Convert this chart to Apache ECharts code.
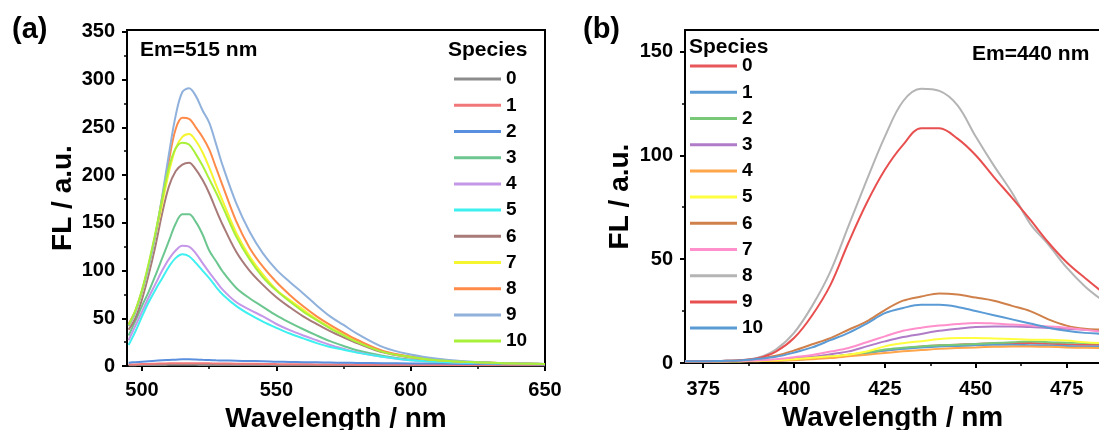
<!DOCTYPE html>
<html><head><meta charset="utf-8">
<script src="https://cdn.jsdelivr.net/npm/echarts@6/dist/echarts.min.js"></script>
<style>html,body{margin:0;padding:0;background:#fff}#c{width:1099px;height:430px}</style>
</head><body><div id="c"></div>
<script>
// ---------- data ----------
const speciesNames = ['0','1','2','3','4','5','6','7','8','9','10'];

// Panel (a): Em = 515 nm
const waveA = [495, 497.5, 500, 502.5, 505, 507.5, 510, 512.5, 515, 517.5, 520, 522.5, 525, 527.5, 530, 535, 540, 545, 550, 555, 560, 565, 570, 575, 580, 590, 600, 610, 620, 630, 640, 650];
const a0 = [0.8, 0.9, 1, 1, 1.1, 1.1, 1.2, 1.2, 1.2, 1.2, 1.2, 1.1, 1.1, 1.1, 1, 1, 1, 1, 0.9, 0.9, 0.9, 0.9, 0.8, 0.8, 0.8, 0.8, 0.8, 0.8, 0.7, 0.7, 0.7, 0.7];
const a1 = [1.5, 1.7, 2, 2.2, 2.4, 2.6, 2.8, 3, 3, 3, 3, 2.9, 2.8, 2.7, 2.6, 2.4, 2.3, 2.2, 2, 1.9, 1.8, 1.7, 1.6, 1.5, 1.4, 1.3, 1.2, 1.1, 1, 1, 1, 1];
const a2 = [3.5, 4, 4.5, 5, 5.5, 6, 6.3, 6.6, 7, 7, 6.8, 6.5, 6.3, 6, 5.8, 5.5, 5.2, 5, 4.5, 4.2, 4, 3.8, 3.6, 3.4, 3.2, 3, 2.7, 2.5, 2.2, 2, 1.8, 1.6];
const a3 = [32, 47, 63, 78, 95, 113, 131, 149, 159, 159, 151, 138, 121, 110, 99, 82, 71, 62, 53, 45.5, 38.5, 32, 26, 21, 16.5, 10.5, 6.5, 4.5, 3.5, 3, 2.5, 2];
const a4 = [27, 42, 57, 72, 86, 100, 112, 121, 126, 125, 118, 108, 98, 89, 80, 67, 59, 52, 44, 37.5, 32, 27, 22, 18, 14.5, 9.5, 6, 4.5, 3.5, 3, 2.5, 2];
const a5 = [22, 36, 52, 67, 80, 92, 104, 113, 117, 115, 108, 100, 92, 83, 75, 63, 54, 46.5, 40, 34, 29, 24, 20, 17, 14, 9.5, 6, 4.5, 3.5, 3, 2.5, 2];
const a6 = [38, 50, 70, 96, 126, 160, 188, 204, 211, 213, 206, 195, 181, 164, 148, 120, 100, 85, 72, 61.5, 52, 44, 36.5, 30, 24, 14, 9, 6, 4.5, 3.5, 2.5, 2];
const a7 = [42, 56, 77, 104, 136, 170, 203, 228, 240, 243, 236, 224, 208, 190, 173, 140, 115, 96, 80, 69, 59, 49, 40.5, 33, 26, 15, 9.5, 6, 4.5, 3.5, 2.5, 2];
const a8 = [44, 58, 79, 106, 138, 176, 215, 248, 260, 259, 250, 240, 227, 208, 189, 152, 124, 104, 88, 74.5, 62.5, 52, 43, 35, 27.5, 15.5, 10, 6.5, 4.5, 3.5, 2.5, 2];
const a9 = [42, 56, 78, 104, 137, 178, 222, 262, 287, 291, 283, 268, 255, 233, 210, 171, 141, 118, 101, 88, 76, 63.5, 52, 43, 34, 19.5, 12, 7.5, 5, 3.5, 2.5, 2];
const a10 = [43, 58, 80, 108, 140, 175, 208, 228, 234, 232, 222, 210, 196, 182, 167, 136, 112, 93, 79, 67.5, 57, 48, 39.5, 32, 25, 14.5, 9.5, 6, 4.5, 3.5, 2.5, 2];

// Panel (b): Em = 440 nm
const waveB = [370, 375, 380, 385, 390, 395, 400, 405, 410, 415, 420, 425, 430, 435, 440, 445, 450, 455, 460, 465, 470, 475, 480, 485, 490];
const b0 = [0.8, 0.8, 0.8, 0.9, 1, 1.2, 1.7, 2.3, 3, 4, 5, 6, 7, 8, 8.5, 8.8, 9.2, 9.4, 9.6, 9.6, 9.3, 9, 8.8, 8.8, 8.7];
const b1 = [0.8, 0.8, 0.8, 0.9, 1, 1.2, 1.6, 2.2, 3, 3.8, 4.8, 6, 6.8, 7.5, 8, 8.2, 8.5, 8.8, 8.8, 8.6, 8.4, 8.2, 8, 8, 8];
const b2 = [0.8, 0.8, 0.8, 0.9, 1, 1.2, 1.6, 2.2, 3, 3.8, 5, 6.5, 7.3, 8, 8.6, 8.8, 9.2, 9.6, 10, 10.4, 10, 9.8, 9.6, 9.5, 9.4];
const b3 = [0.8, 0.8, 0.8, 1, 1.1, 1.5, 2.2, 3, 4.2, 5.6, 8, 10.4, 12.5, 14, 15.5, 16.5, 17.3, 17.6, 17.6, 17.3, 16.8, 16.5, 16, 15.8, 15.5];
const b4 = [0.8, 0.8, 0.8, 0.85, 0.9, 1, 1.3, 1.8, 2.4, 3.2, 4, 4.8, 5.6, 6.2, 6.8, 7.2, 7.5, 7.8, 8, 8, 7.8, 7.5, 7.3, 7.2, 7.2];
const b5 = [0.8, 0.8, 0.8, 0.9, 1, 1.3, 1.8, 2.5, 3.2, 4, 5.5, 8, 9.5, 10.5, 11.5, 12, 12, 11.8, 11.5, 11.2, 11.2, 10.8, 10, 9.6, 9.5];
const b6 = [0.8, 0.8, 1, 1.2, 2, 3.5, 6, 9, 12, 16, 20, 25.5, 30, 32, 33.5, 33, 31.5, 30, 27.5, 25, 21, 18, 16.5, 16, 15.5];
const b7 = [0.8, 0.8, 0.8, 1, 1.2, 1.8, 2.8, 3.8, 5.5, 7.2, 10, 12.8, 15.5, 17, 18, 18.8, 19.3, 19, 18.5, 18, 17.6, 17, 16, 15, 14.5];
const b8 = [0.8, 0.8, 1, 1.3, 2.5, 6.5, 14.5, 27.5, 44, 66, 88, 109, 126, 132, 131, 124, 109, 95, 82, 67, 57, 46, 37, 30, 24];
const b9 = [0.8, 0.8, 1, 1.3, 2.3, 5.5, 12, 23, 37.5, 58, 77, 93, 105, 113, 113, 108, 100, 89.5, 79.5, 69, 58, 48.5, 41, 34, 28];
const b10 = [0.8, 0.8, 1, 1.2, 2, 3, 5, 7.5, 11, 14.5, 19, 24, 26.5, 28, 28, 27, 25, 23, 21, 19, 17, 15.5, 14.5, 14, 13.5];

// Tick labels
const xTicksA = [500, 550, 600, 650];
const xMinorA = [525, 575, 625];
const yTicksA = [0, 50, 100, 150, 200, 250, 300, 350];
const yMinorA = [25, 75, 125, 175, 225, 275, 325];
const xTicksB = [375, 400, 425, 450, 475];
const xMinorB = [387.5, 412.5, 437.5, 462.5];
const yTicksB = [0, 50, 100, 150];
const yMinorB = [25, 75, 125];

// ---------- styling ----------
const FONT = '"Liberation Sans", Arial, Helvetica, sans-serif';
const colorsA = ['#8c8c8c', '#f07878', '#5a8fe0', '#6cc68f', '#c497e8', '#3ef0f0', '#a87a78', '#f5f530', '#ff8a4a', '#8fb1dc', '#a8f03a'];
const colorsB = ['#e8575a', '#5b9bd5', '#78c878', '#b07cc8', '#ffa54a', '#ffff40', '#d0804a', '#ff90cc', '#b4b4b4', '#e85050', '#5b9bd5'];
const seriesA = [a0, a1, a2, a3, a4, a5, a6, a7, a8, a9, a10];
const seriesB = [b0, b1, b2, b3, b4, b5, b6, b7, b8, b9, b10];

function mkSeries(prefix, wave, arrays, colors, xi, yi) {
  return arrays.map((arr, i) => ({
    name: prefix + speciesNames[i],
    type: 'line',
    xAxisIndex: xi, yAxisIndex: yi,
    data: wave.map((x, k) => [x, arr[k]]),
    showSymbol: false, symbol: 'none',
    smooth: 0.35,
    lineStyle: { color: colors[i], width: 2 },
    itemStyle: { color: colors[i] },
    animation: false,
    z: 2
  }));
}

const black = '#000';
function mainX(grid, min, max, ticks, margin, gap) {
  return {
    type: 'value', gridIndex: grid, min: min, max: max, position: 'bottom',
    axisLine: { show: true, onZero: false, lineStyle: { color: black, width: 2 } },
    axisTick: { show: true, customValues: ticks, length: 5, lineStyle: { color: black, width: 2 } },
    axisLabel: { show: true, customValues: ticks, color: black, fontSize: 20, fontWeight: 'bold', fontFamily: FONT, margin: margin },
    splitLine: { show: false },
    name: 'Wavelength / nm', nameLocation: 'middle', nameGap: gap,
    nameTextStyle: { color: black, fontSize: 28, fontWeight: 'bold', fontFamily: FONT }
  };
}
function minorX(grid, min, max, ticks) {
  return {
    type: 'value', gridIndex: grid, min: min, max: max, position: 'bottom',
    axisLine: { show: false, onZero: false },
    axisTick: { show: true, customValues: ticks, length: 3, lineStyle: { color: black, width: 1.5 } },
    axisLabel: { show: false }, splitLine: { show: false }
  };
}
function mainY(grid, min, max, ticks, gap) {
  return {
    type: 'value', gridIndex: grid, min: min, max: max, position: 'left',
    axisLine: { show: true, onZero: false, lineStyle: { color: black, width: 2 } },
    axisTick: { show: true, customValues: ticks, length: 5, lineStyle: { color: black, width: 2 } },
    axisLabel: { show: true, customValues: ticks, color: black, fontSize: 20, fontWeight: 'bold', fontFamily: FONT, margin: 12 },
    splitLine: { show: false },
    name: 'FL / a.u.', nameLocation: 'middle', nameGap: gap, nameRotate: 90,
    nameTextStyle: { color: black, fontSize: 28, fontWeight: 'bold', fontFamily: FONT }
  };
}
function minorY(grid, min, max, ticks) {
  return {
    type: 'value', gridIndex: grid, min: min, max: max, position: 'left',
    axisLine: { show: false, onZero: false },
    axisTick: { show: true, customValues: ticks, length: 3, lineStyle: { color: black, width: 1.5 } },
    axisLabel: { show: false }, splitLine: { show: false }
  };
}
function legendFor(prefix, left, top) {
  return {
    data: speciesNames.map(n => prefix + n),
    orient: 'vertical', left: left, top: top, padding: 0,
    icon: 'rect', itemWidth: 47, itemHeight: 3, itemGap: 6,
    selectedMode: false,
    formatter: name => name.slice(1),
    textStyle: { color: black, fontSize: 19, fontWeight: 'bold', fontFamily: FONT, lineHeight: 20.2 }
  };
}
function txt(x, y, text, size, align) {
  return {
    type: 'text', x: x, y: y, silent: true, z: 10,
    style: { text: text, fill: black, font: 'bold ' + size + 'px ' + FONT,
      textAlign: align || 'left', textVerticalAlign: 'middle', align: align || 'left', verticalAlign: 'middle' }
  };
}

const option = {
  backgroundColor: '#fff',
  animation: false,
  grid: [
    { left: 127, top: 30, width: 418, height: 336, containLabel: false, outerBoundsMode: 'none',
      show: true, borderColor: black, borderWidth: 2, backgroundColor: 'transparent' },
    { left: 685, top: 30, width: 415, height: 333, containLabel: false, outerBoundsMode: 'none', show: false }
  ],
  xAxis: [
    mainX(0, 494.4, 650, xTicksA, 14, 35),
    minorX(0, 494.4, 650, xMinorA),
    mainX(1, 370, 484.2, xTicksB, 16, 37),
    minorX(1, 370, 484.2, xMinorB),
    { type: 'value', gridIndex: 1, min: 370, max: 484.2, position: 'top',
      axisLine: { show: true, onZero: false, lineStyle: { color: black, width: 2 } },
      axisTick: { show: false }, axisLabel: { show: false }, splitLine: { show: false } }
  ],
  yAxis: [
    mainY(0, 0, 352, yTicksA, 49),
    minorY(0, 0, 352, yMinorA),
    mainY(1, 0, 160.3, yTicksB, 51),
    minorY(1, 0, 160.3, yMinorB)
  ],
  legend: [legendFor('a', 454, 69), legendFor('b', 690, 56)],
  graphic: [
    txt(12, 30, '(a)', 29),
    txt(583, 30, '(b)', 29),
    txt(140, 50, 'Em=515 nm', 21),
    txt(972, 54, 'Em=440 nm', 21),
    txt(448, 50, 'Species', 21),
    txt(689, 47, 'Species', 21)
  ],
  series: [].concat(
    mkSeries('a', waveA, seriesA, colorsA, 0, 0),
    mkSeries('b', waveB, seriesB, colorsB, 2, 2)
  )
};

const chart = echarts.init(document.getElementById('c'), null, { renderer: 'canvas' });
chart.setOption(option);
</script></body></html>
